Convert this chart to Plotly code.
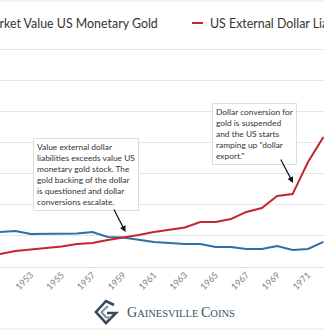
import plotly.graph_objects as go

# ---- data (US $ billions) ----
years = list(range(1951, 1973))
gold_value = [22.5, 23.2, 21.2, 21.3, 21.4, 21.6, 22.5, 19.3, 19.0, 17.4, 16.1,
              15.4, 14.8, 14.8, 12.9, 12.9, 11.6, 11.6, 13.5, 10.9, 11.6, 16.1]
liabilities = [8.4, 10.3, 11.3, 12.2, 13.2, 14.8, 15.4, 17.4, 18.8, 20.6, 22.5,
               24.1, 25.4, 28.9, 28.9, 30.9, 35.4, 37.9, 45.7, 46.9, 67.5, 83.6]
series_names = ["Market Value US Monetary Gold", "US External Dollar Liabilities"]
note_crossing = ["Value external dollar", "liabilities exceeds value US",
                 "monetary gold stock. The", "gold backing of the dollar",
                 "is questioned and dollar", "conversions escalate."]
note_suspension = ["Dollar conversion for", "gold is suspended", "and the US starts",
                   "ramping up \"dollar", "export.\""]

BLUE = "#2f6ea5"
RED = "#c1272d"
W, H = 324, 331
T, B = 40, 64
PH = H - T - B


def px(xp):
    return xp / W


def py(yp):
    return (H - B - yp) / PH


fig = go.Figure()
fig.add_trace(go.Scatter(x=years, y=gold_value, mode="lines", name=series_names[0],
                         line=dict(color=BLUE, width=2)))
fig.add_trace(go.Scatter(x=years, y=liabilities, mode="lines", name=series_names[1],
                         line=dict(color=RED, width=2)))

ann_font = dict(family="Lato", size=8.4, color="#333333")
leg_font = dict(family="Lato", size=12.4, color="#333")
annotations = [
    # legend
    dict(x=px(160), y=py(23), xref="paper", yref="paper", xanchor="right", yanchor="middle",
         text=series_names[0], showarrow=False, font=leg_font),
    dict(x=px(208), y=py(23), xref="paper", yref="paper", xanchor="left", yanchor="middle",
         text=series_names[1], showarrow=False, font=leg_font),
    # notes
    dict(x=1953.14, y=83, xref="x", yref="y", xanchor="left", yanchor="top",
         text="<br>".join(note_crossing), align="left", showarrow=False,
         bgcolor="white", bordercolor="#dcdcdc", borderwidth=1, borderpad=3, font=ann_font),
    dict(x=1959.15, y=22.5, ax=1958.35, ay=38, xref="x", yref="y", axref="x", ayref="y",
         text="", showarrow=True, arrowhead=2, arrowsize=1, arrowwidth=1.2, arrowcolor="#111"),
    dict(x=1964.77, y=105.5, xref="x", yref="y", xanchor="left", yanchor="top",
         text="<br>".join(note_suspension), align="left", showarrow=False,
         bgcolor="white", bordercolor="#dcdcdc", borderwidth=1, borderpad=3, font=ann_font),
    dict(x=1970.03, y=54.0, ax=1969.18, ay=70.1, xref="x", yref="y", axref="x", ayref="y",
         text="", showarrow=True, arrowhead=2, arrowsize=1, arrowwidth=1.2, arrowcolor="#111"),
    # logo text
    dict(x=px(125), y=py(312), xref="paper", yref="paper", xanchor="left", yanchor="middle",
         text="<span style='font-size:14px'>G</span>AINESVILLE <span style='font-size:14px'>C</span>OINS",
         showarrow=False, font=dict(family="Liberation Serif", size=10.5, color="#3b5163")),
]

shapes = [
    dict(type="line", xref="paper", yref="paper", x0=px(192), x1=px(203), y0=py(23), y1=py(23),
         line=dict(color=RED, width=2)),
    dict(type="line", xref="paper", yref="paper", x0=0, x1=1, y0=py(1), y1=py(1),
         line=dict(color="#e8e8e8", width=1)),
    dict(type="line", xref="paper", yref="paper", x0=0, x1=1, y0=py(329), y1=py(329),
         line=dict(color="#e8e8e8", width=1)),
    # logo icon
    dict(type="path", xref="paper", yref="paper",
         path=f"M{px(114)},{py(305)} L{px(106)},{py(301)} L{px(96)},{py(312)} L{px(106)},{py(323)} "
              f"L{px(116)},{py(313)} L{px(107)},{py(313)}",
         line=dict(color="#34495e", width=2.6)),
    dict(type="path", xref="paper", yref="paper",
         path=f"M{px(108)},{py(306)} L{px(101.5)},{py(312)} L{px(106)},{py(317.5)} L{px(110.5)},{py(317.5)}",
         line=dict(color="#7f93a6", width=2.2)),
]

fig.update_layout(
    template="none",
    width=W, height=H,
    margin=dict(l=0, r=0, t=T, b=B, pad=0),
    paper_bgcolor="white", plot_bgcolor="white",
    showlegend=False,
    annotations=annotations,
    shapes=shapes,
    xaxis=dict(range=[1951, 1951 + W / 15.4], tick0=1951, dtick=2, tickangle=-45,
               showgrid=False, zeroline=False, showline=False, ticks="",
               tickfont=dict(family="Lato", size=9, color="#808080"), automargin=False),
    yaxis=dict(range=[0, PH / 31.1 * 20], dtick=20, showgrid=True, gridcolor="#e6e6e6",
               gridwidth=1, zeroline=True, zerolinecolor="#e0e0e0", zerolinewidth=1,
               showticklabels=False, ticks="", showline=False, automargin=False),
)

fig.write_html("out.html")
